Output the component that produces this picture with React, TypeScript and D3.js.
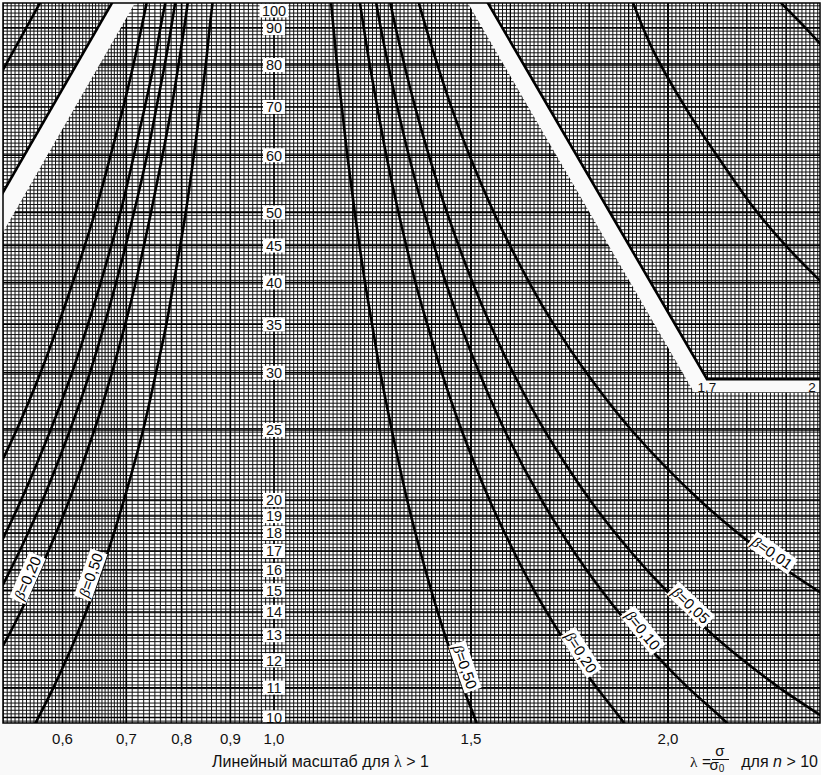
import React from "react";
import * as d3 from "d3";

// ---- data ----
const nValues = [9.5, 10, 11, 12, 13, 15, 17, 20, 25, 30, 35, 40, 50, 60, 70, 80, 90, 100];

// curves for lambda > 1 (right family)
const lambdaUp050 = [1.524, 1.509, 1.48, 1.456, 1.434, 1.399, 1.371, 1.338, 1.299, 1.27, 1.249, 1.231, 1.205, 1.186, 1.172, 1.16, 1.151, 1.143];
const lambdaUp020 = [1.908, 1.878, 1.819, 1.769, 1.728, 1.66, 1.608, 1.547, 1.476, 1.426, 1.389, 1.359, 1.316, 1.285, 1.262, 1.243, 1.228, 1.215];
const lambdaUp010 = [2.177, 2.135, 2.051, 1.982, 1.923, 1.831, 1.76, 1.679, 1.585, 1.521, 1.473, 1.436, 1.381, 1.342, 1.313, 1.29, 1.271, 1.256];
const lambdaUp005 = [2.452, 2.395, 2.282, 2.191, 2.115, 1.995, 1.904, 1.802, 1.686, 1.607, 1.549, 1.504, 1.439, 1.393, 1.358, 1.331, 1.309, 1.291];
const lambdaUp001 = [3.152, 3.053, 2.855, 2.699, 2.572, 2.378, 2.235, 2.08, 1.907, 1.793, 1.71, 1.648, 1.558, 1.496, 1.45, 1.415, 1.386, 1.362];

// curves for lambda < 1 (left family)
const lambdaDown050 = [0.555, 0.566, 0.587, 0.605, 0.621, 0.648, 0.67, 0.696, 0.729, 0.752, 0.771, 0.785, 0.808, 0.824, 0.837, 0.848, 0.856, 0.864];
const lambdaDown020 = [0.457, 0.468, 0.49, 0.509, 0.527, 0.556, 0.58, 0.61, 0.648, 0.676, 0.698, 0.716, 0.743, 0.764, 0.781, 0.794, 0.805, 0.814];
const lambdaDown010 = [0.416, 0.427, 0.449, 0.469, 0.486, 0.516, 0.541, 0.572, 0.611, 0.641, 0.664, 0.683, 0.713, 0.736, 0.753, 0.768, 0.78, 0.79];
const lambdaDown005 = [0.387, 0.398, 0.42, 0.439, 0.457, 0.487, 0.512, 0.543, 0.583, 0.614, 0.638, 0.658, 0.69, 0.713, 0.732, 0.748, 0.76, 0.772];
const lambdaDown001 = [0.34, 0.351, 0.372, 0.391, 0.409, 0.439, 0.464, 0.495, 0.537, 0.569, 0.594, 0.615, 0.649, 0.674, 0.695, 0.712, 0.726, 0.738];

// upper special lines (lambda, n)
const upperLeftLine = [[0.5743, 100], [0.5097, 75.2]];
const leftBandEdge = [[0.6837, 100], [0.5097, 51.0]];
const leftBandFill = [[0.6837, 100], [0.7228, 100], [0.5097, 44.9], [0.5097, 51.0]];
const rightBandEdge = [[1.531, 100], [2.099, 29.4], [2.4, 29.4]];
const rightBandFill = [[1.4805, 100], [1.531, 100], [2.099, 29.4], [2.4, 29.4], [2.4, 28.2], [2.066, 28.2]];
const upperRightLineA = [[1.9036, 100], [1.9619, 83.9], [2.0482, 69.3], [2.132, 59.1], [2.2157, 50.9], [2.302, 44.8], [2.3985, 39.6]];
const upperRightLineB = [[2.2665, 100], [2.335, 91.7], [2.3985, 84.2]];

const yTickValues = [10, 11, 12, 13, 14, 15, 16, 17, 18, 19, 20, 25, 30, 35, 40, 45, 50, 60, 70, 80, 90, 100];
const xTickValues = [0.6, 0.7, 0.8, 0.9, 1.0, 1.5, 2.0];
const xTickLabels = ["0,6", "0,7", "0,8", "0,9", "1,0", "1,5", "2,0"];

const betaLabels = [
  { series: "up001", n: 16.9, text: "=0,01", side: 1 },
  { series: "up005", n: 14.3, text: "=0,05", side: 1 },
  { series: "up010", n: 13.2, text: "=0,10", side: 1 },
  { series: "up020", n: 12.3, text: "=0,20", side: 1 },
  { series: "up050", n: 11.75, text: "=0,50", side: 1 },
  { series: "down020", n: 15.6, text: "=0,20", side: -1 },
  { series: "down050", n: 15.75, text: "=0,50", side: -1 },
];

const series: { key: string; lambdas: number[] }[] = [
  { key: "up050", lambdas: lambdaUp050 },
  { key: "up020", lambdas: lambdaUp020 },
  { key: "up010", lambdas: lambdaUp010 },
  { key: "up005", lambdas: lambdaUp005 },
  { key: "up001", lambdas: lambdaUp001 },
  { key: "down050", lambdas: lambdaDown050 },
  { key: "down020", lambdas: lambdaDown020 },
  { key: "down010", lambdas: lambdaDown010 },
  { key: "down005", lambdas: lambdaDown005 },
  { key: "down001", lambdas: lambdaDown001 },
];

const FONT = "'Liberation Sans', Arial, Helvetica, sans-serif";

export default function App() {
  const W = 821, H = 775;
  const px0 = 3, px1 = 820, py0 = 3, py1 = 723;

  const xLog = d3.scaleLog().domain([0.6, 1]).range([62.5, 274]);
  const xLin = d3.scaleLinear().domain([1, 2]).range([274, 668]);
  const x = (l: number) => (l <= 1 ? xLog(l) : xLin(l));
  const y = d3.scaleLog().domain([10, 100]).range([717.5, -5]);

  // grid values
  const xMinor: number[] = [];
  for (let i = 0; i <= 40; i++) xMinor.push(0.5 + i * 0.005);
  for (let i = 1; i <= 30; i++) xMinor.push(0.7 + i * 0.01);
  for (let i = 1; i <= 140; i++) xMinor.push(1 + i * 0.01);
  const xMid: number[] = [];
  for (let i = 1; i <= 13; i++) xMid.push(1 + i * 0.1);
  const yMinor: number[] = [];
  for (let k = -3; k <= 205; k++) yMinor.push(10 * Math.pow(10, k / 200));

  const line = d3.line<number[]>().x((d) => d[0]).y((d) => d[1]).curve(d3.curveCatmullRom.alpha(0.5));
  const straight = d3.line<number[]>().x((d) => x(d[0])).y((d) => y(d[1]));
  const smooth = d3.line<number[]>().x((d) => x(d[0])).y((d) => y(d[1])).curve(d3.curveCatmullRom.alpha(0.5));

  const pts: Record<string, number[][]> = {};
  series.forEach((s) => {
    pts[s.key] = nValues.map((n, i) => [x(s.lambdas[i]), y(n)]);
  });

  const labelGeom = betaLabels.map((lb) => {
    const p = pts[lb.series];
    const yt = y(lb.n);
    let i = 0;
    for (; i < p.length - 1; i++) if (p[i][1] >= yt && p[i + 1][1] <= yt) break;
    const a = p[i], b = p[i + 1];
    const t = (yt - a[1]) / (b[1] - a[1]);
    const cx = a[0] + t * (b[0] - a[0]);
    let dx = b[0] - a[0], dy = b[1] - a[1];
    if (dx < 0) { dx = -dx; dy = -dy; }
    const ang = (Math.atan2(dy, dx) * 180) / Math.PI;
    return { ...lb, cx: cx + lb.side * 9, cy: yt, ang };
  });

  const poly = (arr: number[][]) => arr.map((d) => `${x(d[0])},${y(d[1])}`).join(" ");

  return (
    <svg width={W} height={H} style={{ position: "absolute", left: 0, top: 0, background: "#f9f9f9" }} fontFamily={FONT}>
      <defs>
        <clipPath id="plotClip">
          <rect x={px0} y={py0} width={px1 - px0} height={py1 - py0} />
        </clipPath>
      </defs>
      <rect x={px0} y={py0} width={px1 - px0} height={py1 - py0} fill="#fff" />
      <g clipPath="url(#plotClip)">
        {/* minor grid */}
        {xMinor.map((v, i) => (
          <line key={"xm" + i} x1={x(v)} x2={x(v)} y1={py0} y2={py1} stroke="#111" strokeWidth={1.0} />
        ))}
        {yMinor.map((v, i) => (
          <line key={"ym" + i} x1={px0} x2={px1} y1={y(v)} y2={y(v)} stroke="#111" strokeWidth={1.0} />
        ))}
        {xMid.map((v, i) => (
          <line key={"xd" + i} x1={x(v)} x2={x(v)} y1={py0} y2={py1} stroke="#000" strokeWidth={1.2} />
        ))}
        {xTickValues.map((v, i) => (
          <line key={"xM" + i} x1={x(v)} x2={x(v)} y1={py0} y2={py1} stroke="#000" strokeWidth={1.6} />
        ))}
        {yTickValues.map((v, i) => (
          <line key={"yM" + i} x1={px0} x2={px1} y1={y(v)} y2={y(v)} stroke="#000" strokeWidth={1.4} />
        ))}

        {/* white bands */}
        <polygon points={poly(leftBandFill)} fill="#fafafa" />
        <polygon points={poly(rightBandFill)} fill="#fafafa" />
        <path d={straight(leftBandEdge) || ""} fill="none" stroke="#000" strokeWidth={2.6} />
        <path d={straight(rightBandEdge) || ""} fill="none" stroke="#000" strokeWidth={2.6} />
        <path d={straight(upperLeftLine) || ""} fill="none" stroke="#000" strokeWidth={2.6} />
        <path d={smooth(upperRightLineA) || ""} fill="none" stroke="#000" strokeWidth={2.6} />
        <path d={smooth(upperRightLineB) || ""} fill="none" stroke="#000" strokeWidth={2.6} />

        {/* curves */}
        {series.map((s) => (
          <path key={s.key} d={line(pts[s.key]) || ""} fill="none" stroke="#000" strokeWidth={2.6} />
        ))}

        {/* y labels on lambda = 1 */}
        {yTickValues.map((v, i) => {
          const yy = Math.max(y(v), 10.5);
          const w = v >= 100 ? 29 : 22;
          return (
            <g key={"yl" + i}>
              <rect x={x(1) - w / 2} y={yy - 7} width={w} height={14} fill="#fff" />
              <text x={x(1)} y={yy + 5.3} textAnchor="middle" fontSize={14.5} fill="#111">{v}</text>
            </g>
          );
        })}

        {/* band labels */}
        <text x={x(2.099)} y={y(29.4) + 13} textAnchor="middle" fontSize={13.5} fill="#111">1,7</text>
        <text x={x(2.3655)} y={y(29.4) + 13} textAnchor="middle" fontSize={13.5} fill="#111">2</text>

        {/* beta labels */}
        {labelGeom.map((lb, i) => (
          <g key={"bl" + i} transform={`translate(${lb.cx},${lb.cy}) rotate(${lb.ang})`}>
            <rect x={-25} y={-9} width={50} height={18} fill="#fff" />
            <text x={0} y={5.3} textAnchor="middle" fontSize={15} fill="#000">
              <tspan fontStyle="italic" fontFamily="'Liberation Serif', serif">β</tspan>
              {lb.text}
            </text>
          </g>
        ))}
      </g>
      <rect x={px0} y={py0} width={px1 - px0} height={py1 - py0} fill="none" stroke="#000" strokeWidth={1.5} />

      {/* x tick labels */}
      {xTickValues.map((v, i) => (
        <text key={"xt" + i} x={x(v)} y={744} textAnchor="middle" fontSize={15} fill="#111">{xTickLabels[i]}</text>
      ))}
      <text x={212} y={767} fontSize={16} fill="#111">
        Линейный масштаб для <tspan fontFamily="'Liberation Serif', serif">λ</tspan> &gt; 1
      </text>
      {/* formula */}
      <text y={767} fontSize={15.5} fill="#111">
        <tspan x={690} fontFamily="'Liberation Serif', serif">λ</tspan>
        <tspan x={702}>=</tspan>
      </text>
      <text x={720} y={756} textAnchor="middle" fontSize={15} fill="#111">σ</text>
      <line x1={712} x2={729} y1={759.5} y2={759.5} stroke="#111" strokeWidth={1} />
      <text x={717} y={770} textAnchor="middle" fontSize={15} fill="#111">σ<tspan fontSize={10} dy={2}>0</tspan></text>
      <text x={818} y={767} textAnchor="end" fontSize={16} fill="#111">
        для <tspan fontStyle="italic">n</tspan> &gt; 10
      </text>
    </svg>
  );
}
